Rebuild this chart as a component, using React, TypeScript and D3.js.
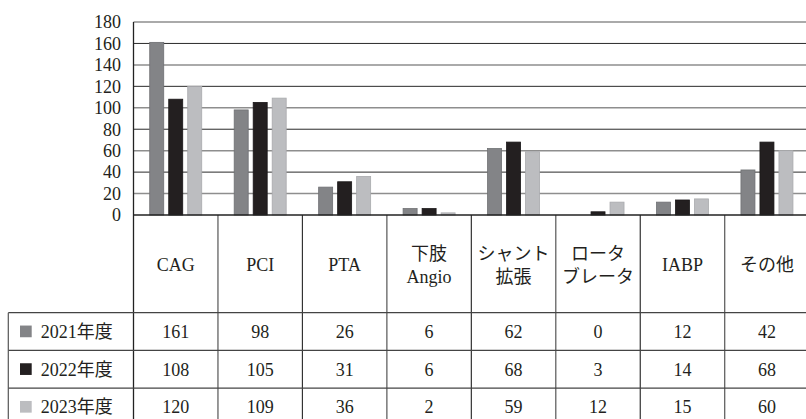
import React from "react";
import * as d3 from "d3";

const categories: string[][] = [
  ["CAG"],
  ["PCI"],
  ["PTA"],
  ["下肢", "Angio"],
  ["シャント", "拡張"],
  ["ロータ", "ブレータ"],
  ["IABP"],
  ["その他"],
];
const seriesNames = ["2021年度", "2022年度", "2023年度"];
const values2021 = [161, 98, 26, 6, 62, 0, 12, 42];
const values2022 = [108, 105, 31, 6, 68, 3, 14, 68];
const values2023 = [120, 109, 36, 2, 59, 12, 15, 60];
const yTicks = [0, 20, 40, 60, 80, 100, 120, 140, 160, 180];

const seriesValues = [values2021, values2022, values2023];
const seriesFill = ["#838487", "#231f20", "#bcbdc0"];
const seriesStroke = ["#6f7073", "#1a1718", "#a9aaad"];

const W = 806;
const H = 419;
const plotLeft = 133.5;
const catW = 84.46;
const plotTop = 22;
const plotBottom = 215;
const headerBottom = 312.7;
const rowH = 37.7;
const tableLeft = 8.3;
const FONT = '"Liberation Serif", "DejaVu Serif", "Noto Sans CJK JP", serif';
const TEXT = "#231f20";
const FS = 18;
const txt: React.CSSProperties = { fontFamily: FONT, fontSize: FS };

export default function App() {
  const idx = categories.map((_, i) => String(i));
  const x = d3
    .scaleBand<string>()
    .domain(idx)
    .range([plotLeft, plotLeft + catW * categories.length]);
  const inner = d3
    .scaleBand<string>()
    .domain(seriesNames)
    .range([-26, 26])
    .paddingInner(5 / 19);
  const y = d3.scaleLinear().domain([0, 180]).range([plotBottom, plotTop]);
  const plotRight = plotLeft + catW * categories.length;
  const tableBottom = headerBottom + rowH * seriesNames.length;

  return (
    <svg width={W} height={H} style={{ position: "absolute", left: 0, top: 0, background: "#fff" }}>
      <rect x={0} y={0} width={W} height={H} fill="#fff" />
      {yTicks
        .filter((t) => t > 0)
        .map((t, i) => (
          <line
            key={"g" + t}
            x1={plotLeft}
            x2={plotRight}
            y1={y(t)}
            y2={y(t)}
            stroke={i % 2 === 0 ? "#8e8e8e" : "#2a2a2a"}
            strokeWidth={i % 2 === 0 ? 1.5 : 1}
          />
        ))}
      {yTicks.map((t) => (
        <text key={"yl" + t} x={121} y={y(t)} dy="0.35em" textAnchor="end" style={txt} fill={TEXT}>
          {t}
        </text>
      ))}
      {categories.map((_, ci) => {
        const cx = (x(String(ci)) as number) + x.bandwidth() / 2;
        return seriesNames.map((s, si) => {
          const v = seriesValues[si][ci];
          if (v <= 0) return null;
          return (
            <rect
              key={"b" + ci + "-" + si}
              x={cx + (inner(s) as number)}
              y={y(v)}
              width={inner.bandwidth()}
              height={y(0) - y(v)}
              fill={seriesFill[si]}
              stroke={seriesStroke[si]}
              strokeWidth={0.8}
            />
          );
        });
      })}
      <line x1={plotLeft} x2={plotLeft} y1={plotTop} y2={tableBottom} stroke="#222" strokeWidth={1.3} />
      {categories.map((_, ci) =>
        ci === 0 ? null : (
          <line
            key={"d" + ci}
            x1={x(String(ci)) as number}
            x2={x(String(ci)) as number}
            y1={plotBottom}
            y2={tableBottom}
            stroke={ci % 2 === 0 ? "#333" : "#555"}
            strokeWidth={1.2}
          />
        )
      )}
      <line x1={plotLeft} x2={plotRight} y1={plotBottom} y2={plotBottom} stroke="#222" strokeWidth={1.6} />
      {categories.map((lines, ci) => {
        const cx = (x(String(ci)) as number) + x.bandwidth() / 2;
        const cy = (plotBottom + headerBottom) / 2 + 1;
        const lh = 23;
        return (
          <text key={"h" + ci} textAnchor="middle" style={txt} fill={TEXT}>
            {lines.map((ln, li) => (
              <tspan key={li} x={cx} y={cy + (li - (lines.length - 1) / 2) * lh} dy="0.35em">
                {ln}
              </tspan>
            ))}
          </text>
        );
      })}
      {seriesNames.map((_, ri) => (
        <line
          key={"rl" + ri}
          x1={tableLeft}
          x2={plotRight}
          y1={headerBottom + ri * rowH}
          y2={headerBottom + ri * rowH}
          stroke="#444"
          strokeWidth={1.2}
        />
      ))}
      <line x1={tableLeft} x2={plotRight} y1={tableBottom} y2={tableBottom} stroke="#444" strokeWidth={1.2} />
      <line x1={tableLeft} x2={tableLeft} y1={headerBottom} y2={tableBottom} stroke="#555" strokeWidth={1.2} />
      {seriesNames.map((s, ri) => {
        const cy = headerBottom + ri * rowH + rowH / 2;
        return (
          <g key={"row" + ri}>
            <rect x={20} y={cy - 6} width={11.7} height={11.7} fill={seriesFill[ri]} />
            <text x={40.7} y={cy} dy="0.35em" style={txt} fill={TEXT}>
              {s}
            </text>
            {categories.map((_, ci) => (
              <text
                key={"v" + ci}
                x={(x(String(ci)) as number) + x.bandwidth() / 2}
                y={cy}
                dy="0.35em"
                textAnchor="middle"
                style={txt}
                fill={TEXT}
              >
                {seriesValues[ri][ci]}
              </text>
            ))}
          </g>
        );
      })}
    </svg>
  );
}
